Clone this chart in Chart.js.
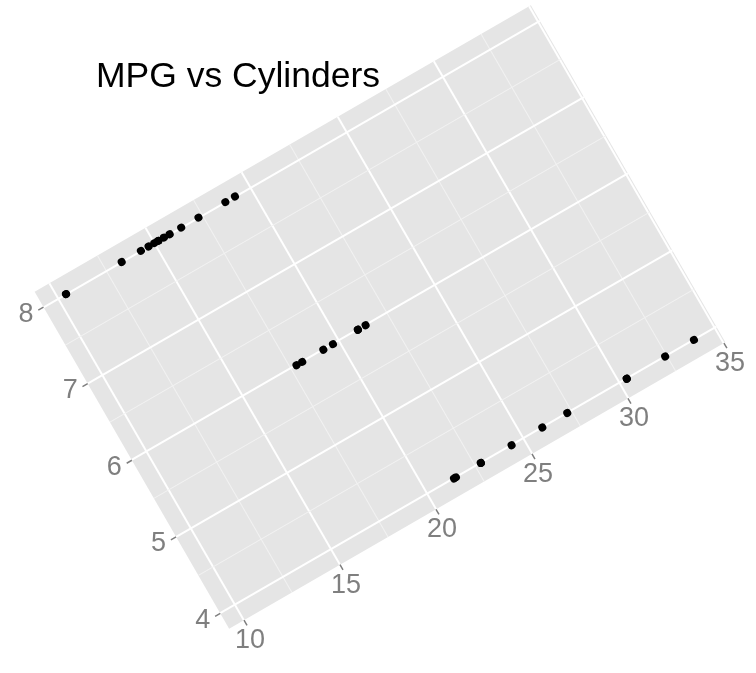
<!DOCTYPE html>
<html>
<head>
<meta charset="utf-8">
<title>MPG vs Cylinders</title>
<script src="https://cdn.jsdelivr.net/npm/chart.js@4/dist/chart.umd.min.js"></script>
<style>
  html, body { margin: 0; padding: 0; background: #fff; }
  #wrap { width: 756px; height: 673px; }
</style>
</head>
<body>
<div id="wrap"><canvas id="chart" width="756" height="673"></canvas></div>
<script>
'use strict';

/* ── data: mpg by cylinder count ───────────────────────── */
const mpg4 = [22.8, 24.4, 22.8, 32.4, 30.4, 33.9, 21.5, 27.3, 26.0, 30.4, 21.4];
const mpg6 = [21.0, 21.0, 21.4, 18.1, 19.2, 17.8, 19.7];
const mpg8 = [18.7, 14.3, 16.4, 17.3, 15.2, 10.4, 10.4, 14.7, 15.5, 15.2, 13.3, 19.2, 15.8, 15.0];

const xTicks = [10, 15, 20, 25, 30, 35];
const yTicks = [4, 5, 6, 7, 8];
const xMinor = [12.5, 17.5, 22.5, 27.5, 32.5];
const yMinor = [4.5, 5.5, 6.5, 7.5];

const xRange = [9.225, 35.075];
const yRange = [3.8, 8.2];

const TITLE = 'MPG vs Cylinders';

/* ── panel placement (rotated plot area) ──────────────── */
const PANEL = { cx: 380, cy: 317, angle: -30 * Math.PI / 180 };
const GREY  = '#7F7F7F';
const FONT  = '"Liberation Sans", Arial, Helvetica, sans-serif';

function applyPanel(ctx, chart) {
  const a = chart.chartArea;
  ctx.translate(PANEL.cx, PANEL.cy);
  ctx.rotate(PANEL.angle);
  ctx.translate(-(a.left + a.right) / 2, -(a.top + a.bottom) / 2);
}

function toScreen(chart, x, y) {
  const a = chart.chartArea;
  const ox = x - (a.left + a.right) / 2, oy = y - (a.top + a.bottom) / 2;
  const c = Math.cos(PANEL.angle), s = Math.sin(PANEL.angle);
  return { x: PANEL.cx + ox * c - oy * s, y: PANEL.cy + ox * s + oy * c };
}

const rotatedPanel = {
  id: 'rotatedPanel',
  beforeDraw(chart) {
    const ctx = chart.ctx, a = chart.chartArea;
    ctx.save();
    applyPanel(ctx, chart);
    ctx.fillStyle = '#E5E5E5';
    ctx.fillRect(a.left, a.top, a.right - a.left, a.bottom - a.top);
  },
  afterDatasetsDraw(chart) {
    chart.ctx.restore();
  },
  afterDraw(chart) {
    const ctx = chart.ctx, a = chart.chartArea;
    const xs = chart.scales.x, ys = chart.scales.y;

    // tick marks, in panel space
    ctx.save();
    applyPanel(ctx, chart);
    ctx.strokeStyle = GREY;
    ctx.lineWidth = 1.5;
    ctx.beginPath();
    xTicks.forEach(v => {
      const px = xs.getPixelForValue(v);
      ctx.moveTo(px, a.bottom); ctx.lineTo(px, a.bottom + 6);
    });
    yTicks.forEach(v => {
      const py = ys.getPixelForValue(v);
      ctx.moveTo(a.left, py); ctx.lineTo(a.left - 6, py);
    });
    ctx.stroke();
    ctx.restore();

    // tick labels stay upright
    ctx.save();
    ctx.fillStyle = GREY;
    ctx.font = `27px ${FONT}`;
    ctx.textBaseline = 'middle';
    ctx.textAlign = 'center';
    xTicks.forEach(v => {
      const p = toScreen(chart, xs.getPixelForValue(v), a.bottom);
      ctx.fillText(String(v), p.x + 6, p.y + 20.5);
    });
    ctx.textAlign = 'right';
    yTicks.forEach(v => {
      const p = toScreen(chart, a.left, ys.getPixelForValue(v));
      ctx.fillText(String(v), p.x - 10, p.y + 7);
    });

    // title
    ctx.fillStyle = '#000';
    ctx.font = `35.5px ${FONT}`;
    ctx.textAlign = 'left';
    ctx.textBaseline = 'alphabetic';
    ctx.fillText(TITLE, 96, 87);
    ctx.restore();
  }
};

/* ── chart ─────────────────────────────────────────────── */
const points = [
  ...mpg4.map(v => ({ x: v, y: 4 })),
  ...mpg6.map(v => ({ x: v, y: 6 })),
  ...mpg8.map(v => ({ x: v, y: 8 })),
];

const gridOf = (major) => ({
  drawTicks: false,
  tickLength: 0,
  color:     c => major.includes(c.tick.value) ? '#FFFFFF' : '#F2F2F2',
  lineWidth: c => major.includes(c.tick.value) ? 2 : 1,
});

const ticksFrom = (major, minor) => scale => {
  scale.ticks = [...major, ...minor].sort((p, q) => p - q).map(v => ({ value: v }));
};

new Chart(document.getElementById('chart'), {
  type: 'scatter',
  data: {
    datasets: [{
      data: points,
      pointRadius: 4,
      pointBorderWidth: 0,
      backgroundColor: '#000',
      borderColor: '#000',
    }]
  },
  options: {
    responsive: false,
    animation: false,
    events: [],
    devicePixelRatio: 1,
    layout: { padding: { left: 92, right: 91, top: 122, bottom: 162 } },
    plugins: { legend: { display: false }, tooltip: { enabled: false }, title: { display: false } },
    scales: {
      x: {
        type: 'linear', min: xRange[0], max: xRange[1],
        ticks: { display: false },
        border: { display: false },
        grid: gridOf(xTicks),
        afterBuildTicks: ticksFrom(xTicks, xMinor),
      },
      y: {
        type: 'linear', min: yRange[0], max: yRange[1],
        ticks: { display: false },
        border: { display: false },
        grid: gridOf(yTicks),
        afterBuildTicks: ticksFrom(yTicks, yMinor),
      }
    }
  },
  plugins: [rotatedPanel]
});
</script>
</body>
</html>
